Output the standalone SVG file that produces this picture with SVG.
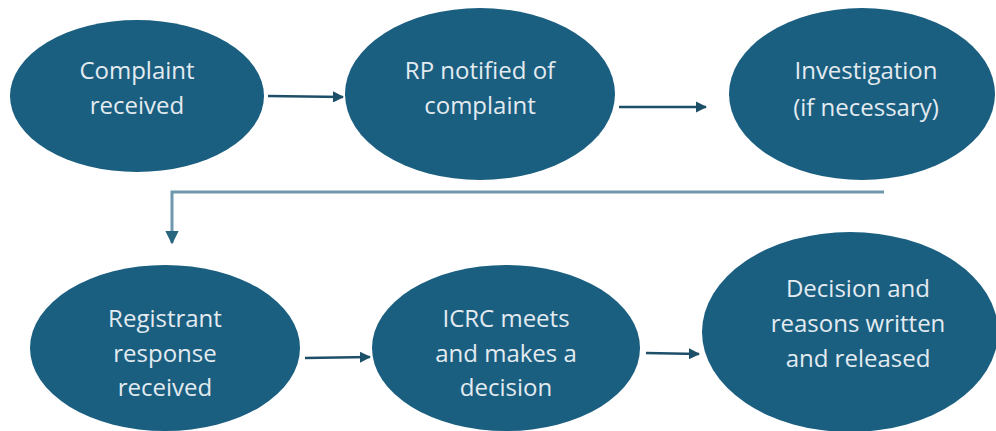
<svg xmlns="http://www.w3.org/2000/svg" width="996" height="431" viewBox="0 0 996 431">
<style>
.node{fill:#1a5e80}
.lbl{font-family:"Open Sans","Liberation Sans",sans-serif;font-size:24px;fill:#e3ebf0;text-anchor:middle}
.arr{stroke:#1d4f68;stroke-width:2.5;fill:none}
.elbow{stroke:#6f97ad;stroke-width:3;fill:none}
</style>
<defs>
<marker id="ah" viewBox="0 0 10 10" refX="9" refY="5" markerWidth="4.5" markerHeight="4.5" orient="auto" markerUnits="strokeWidth">
<path d="M0,0 L10,5 L0,10 z" fill="#1d4f68"/>
</marker>
<marker id="ah2" viewBox="0 0 10 10" refX="9" refY="5" markerWidth="4.5" markerHeight="4.5" orient="auto" markerUnits="strokeWidth">
<path d="M0,0 L10,5 L0,10 z" fill="#2a6580"/>
</marker>
</defs>
<rect width="996" height="431" fill="#ffffff"/>
<g id="connectors">
<line class="arr" x1="268" y1="96" x2="343" y2="97" marker-end="url(#ah)"/>
<line class="arr" x1="619" y1="107" x2="706" y2="107" marker-end="url(#ah)"/>
<polyline class="elbow" points="884,192 172,192 172,243" marker-end="url(#ah2)"/>
<line class="arr" x1="305" y1="358" x2="370" y2="357" marker-end="url(#ah)"/>
<line class="arr" x1="646" y1="353" x2="699" y2="354" marker-end="url(#ah)"/>
</g>
<g id="n1">
<ellipse class="node" cx="137" cy="96" rx="127" ry="76"/>
<text class="lbl" x="137" y="79">Complaint</text>
<text class="lbl" x="137" y="114">received</text>
</g>
<g id="n2">
<ellipse class="node" cx="480" cy="94" rx="135" ry="86"/>
<text class="lbl" x="480" y="79">RP notified of</text>
<text class="lbl" x="480" y="114">complaint</text>
</g>
<g id="n3">
<ellipse class="node" cx="862" cy="94" rx="133" ry="86"/>
<text class="lbl" x="866" y="79">Investigation</text>
<text class="lbl" x="866" y="116">(if necessary)</text>
</g>
<g id="n4">
<ellipse class="node" cx="165" cy="348" rx="135" ry="83"/>
<text class="lbl" x="165" y="327">Registrant</text>
<text class="lbl" x="165" y="362">response</text>
<text class="lbl" x="165" y="396">received</text>
</g>
<g id="n5">
<ellipse class="node" cx="506" cy="348" rx="134" ry="83"/>
<text class="lbl" x="506" y="327">ICRC meets</text>
<text class="lbl" x="506" y="362">and makes a</text>
<text class="lbl" x="506" y="396">decision</text>
</g>
<g id="n6">
<ellipse class="node" cx="850" cy="332" rx="148" ry="100"/>
<text class="lbl" x="858" y="297">Decision and</text>
<text class="lbl" x="858" y="332">reasons written</text>
<text class="lbl" x="858" y="367">and released</text>
</g>
</svg>
